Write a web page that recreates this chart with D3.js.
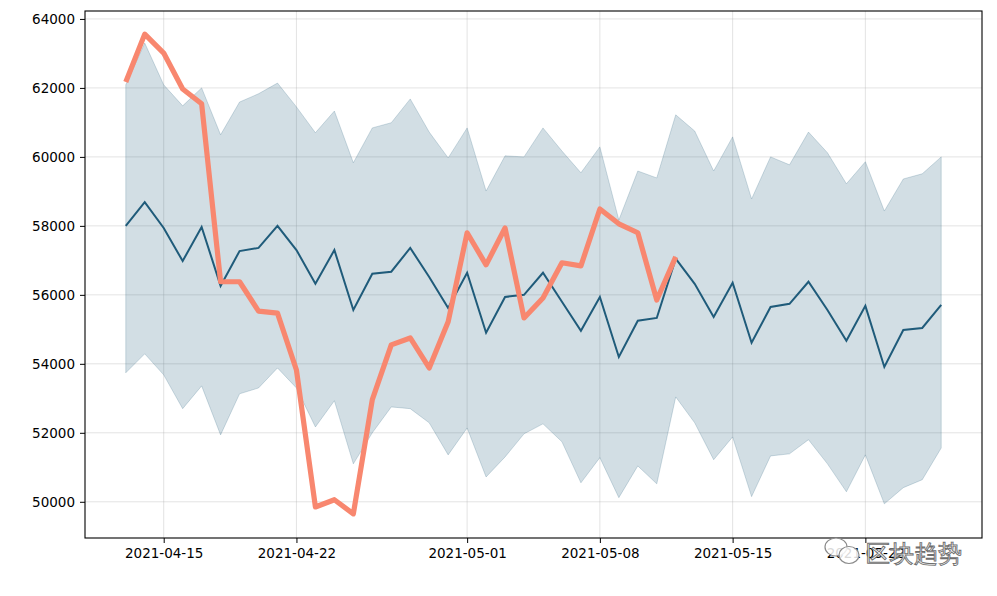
<!DOCTYPE html>
<html><head><meta charset="utf-8">
<script src="https://cdn.jsdelivr.net/npm/d3@7/dist/d3.min.js"></script>
<style>
html,body{margin:0;padding:0;background:#fff;}
svg{display:block;}
text{font-family:"DejaVu Sans",sans-serif;}
</style></head>
<body>
<svg id="chart" width="997" height="596"></svg>
<script>
const dates = ["2021-04-13","2021-04-14","2021-04-15","2021-04-16","2021-04-17","2021-04-18","2021-04-19","2021-04-20","2021-04-21","2021-04-22",
"2021-04-23","2021-04-24","2021-04-25","2021-04-26","2021-04-27","2021-04-28","2021-04-29","2021-04-30","2021-05-01","2021-05-02",
"2021-05-03","2021-05-04","2021-05-05","2021-05-06","2021-05-07","2021-05-08","2021-05-09","2021-05-10","2021-05-11","2021-05-12",
"2021-05-13","2021-05-14","2021-05-15","2021-05-16","2021-05-17","2021-05-18","2021-05-19","2021-05-20","2021-05-21","2021-05-22",
"2021-05-23","2021-05-24","2021-05-25","2021-05-26"];

const actual = [62170,63560,63010,61970,61540,56380,56380,55530,55470,53820,
49850,50060,49650,52960,54550,54750,53880,55220,57800,56870,
57940,55330,55910,56930,56840,58490,58060,57800,55850,57100];

const predMean = [58000,58690,57940,56980,57970,56260,57270,57360,58000,57300,
56320,57300,55560,56610,56670,57360,56520,55620,56640,54900,
55940,56000,56640,55800,54960,55940,54200,55250,55330,57050,
56320,55360,56350,54610,55650,55740,56380,55560,54670,55680,
53910,54980,55040,55710];

const predUpper = [62090,63300,62090,61480,62000,60640,61590,61830,62140,61450,
60700,61330,59830,60840,60990,61680,60720,59970,60840,59010,
60030,60000,60840,60170,59540,60290,58170,59590,59390,61220,
60750,59590,60580,58780,60000,59770,60720,60120,59220,59860,
58430,59360,59510,60000];

const predLower = [53740,54290,53680,52700,53360,51940,53130,53300,53880,53300,
52170,52930,51100,52000,52750,52700,52290,51360,52140,50720,
51300,51970,52260,51740,50550,51280,50120,51040,50520,53040,
52290,51220,51880,50150,51330,51390,51800,51100,50290,51360,
49940,50410,50640,51560];

const yTicks = [50000,52000,54000,56000,58000,60000,62000,64000];
const xTickLabels = ["2021-04-15","2021-04-22","2021-05-01","2021-05-08","2021-05-15","2021-05-22"];

const parse = d3.utcParse("%Y-%m-%d");
const fmt = d3.utcFormat("%Y-%m-%d");
const dd = dates.map(parse);

const pL = 85, pR = 982, pT = 11, pB = 538;
const svg = d3.select("#chart");

const dayMs = 86400000;
const x = d3.scaleUtc()
  .domain([new Date(dd[0].getTime() - 2.15*dayMs), new Date(dd[dd.length-1].getTime() + 2.15*dayMs)])
  .range([pL, pR]);
const y = d3.scaleLinear().domain([48950, 64230]).range([pB, pT]);

const lineColor = "#1f5b7a";
const orange = "#f8876f";

// grid
const xTickDates = xTickLabels.map(parse);
svg.append("g").selectAll("line").data(xTickDates).join("line")
  .attr("x1", d => x(d)).attr("x2", d => x(d)).attr("y1", pT).attr("y2", pB)
  .attr("stroke", "#b0b0b0").attr("stroke-opacity", 0.35).attr("stroke-width", 1);
svg.append("g").selectAll("line").data(yTicks).join("line")
  .attr("x1", pL).attr("x2", pR).attr("y1", d => y(d)).attr("y2", d => y(d))
  .attr("stroke", "#b0b0b0").attr("stroke-opacity", 0.35).attr("stroke-width", 1);

// band
const band = dd.map((d, i) => ({d, lo: predLower[i], hi: predUpper[i]}));
svg.append("path").datum(band)
  .attr("d", d3.area().x(p => x(p.d)).y0(p => y(p.lo)).y1(p => y(p.hi)))
  .attr("fill", lineColor).attr("fill-opacity", 0.2)
  .attr("stroke", lineColor).attr("stroke-opacity", 0.2).attr("stroke-width", 1);

// mean line
svg.append("path").datum(dd.map((d, i) => ({d, v: predMean[i]})))
  .attr("d", d3.line().x(p => x(p.d)).y(p => y(p.v)))
  .attr("fill", "none").attr("stroke", lineColor).attr("stroke-width", 2)
  .attr("stroke-linejoin", "miter");

// actual line
svg.append("path").datum(actual.map((v, i) => ({d: dd[i], v})))
  .attr("d", d3.line().x(p => x(p.d)).y(p => y(p.v)))
  .attr("fill", "none").attr("stroke", orange).attr("stroke-width", 5.2)
  .attr("stroke-linejoin", "round");

// axes frame
svg.append("rect").attr("x", pL).attr("y", pT).attr("width", pR-pL).attr("height", pB-pT)
  .attr("fill", "none").attr("stroke", "#000").attr("stroke-width", 1.1);

const xAxis = d3.axisBottom(x).tickValues(xTickDates).tickFormat(fmt).tickSize(5).tickPadding(5);
const gx = svg.append("g").attr("transform", `translate(0,${pB})`).call(xAxis);
gx.select(".domain").remove();
gx.selectAll("text").attr("font-size", "13.5px").attr("fill", "#000").attr("font-family", "DejaVu Sans");
gx.selectAll("line").attr("stroke", "#000").attr("stroke-width", 1);

const yAxis = d3.axisLeft(y).tickValues(yTicks).tickFormat(d3.format("d")).tickSize(5).tickPadding(5);
const gy = svg.append("g").attr("transform", `translate(${pL},0)`).call(yAxis);
gy.select(".domain").remove();
gy.selectAll("text").attr("font-size", "13.5px").attr("fill", "#000").attr("font-family", "DejaVu Sans");
gy.selectAll("line").attr("stroke", "#000").attr("stroke-width", 1);

// watermark (WeChat-style logo + account name)
const wm = svg.append("g").attr("transform", "translate(822,536)");
wm.append("ellipse").attr("cx", 14).attr("cy", 11).attr("rx", 11).attr("ry", 9)
  .attr("fill", "#fff").attr("fill-opacity", 0.85).attr("stroke", "#8a8a8a").attr("stroke-width", 1.2);
wm.append("ellipse").attr("cx", 27).attr("cy", 19).attr("rx", 10).attr("ry", 8.5)
  .attr("fill", "#fff").attr("fill-opacity", 0.85).attr("stroke", "#8a8a8a").attr("stroke-width", 1.2);
wm.append("text").attr("x", 44).attr("y", 26).text("区块趋势")
  .attr("font-family", "Noto Sans CJK SC").attr("font-size", "24px")
  .attr("fill", "#fafafa").attr("stroke", "#6e6e6e").attr("stroke-width", 0.9);
</script>
</body></html>
